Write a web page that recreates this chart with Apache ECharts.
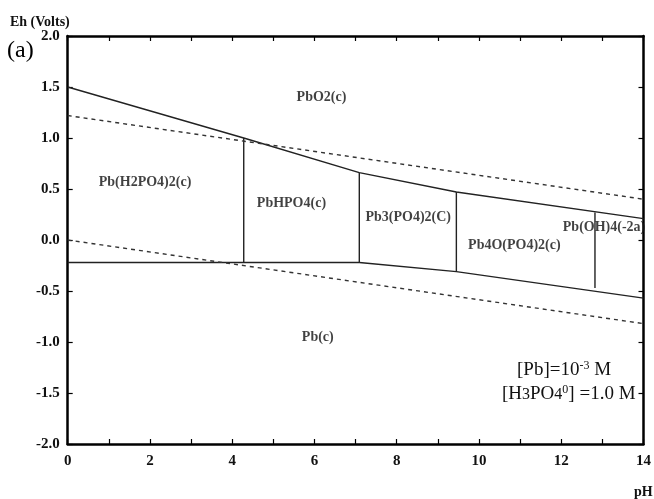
<!DOCTYPE html>
<html>
<head>
<meta charset="utf-8">
<script src="https://cdn.jsdelivr.net/npm/echarts@6/dist/echarts.min.js"></script>
<style>html,body{margin:0;padding:0;background:#fff}#c{width:654px;height:499px}</style>
</head>
<body>
<div id="c"></div>
<script>
// Phase boundaries (pH, Eh in volts)
const upperBoundary = [[0, 1.5], [4.28, 1.0], [7.09, 0.66], [9.45, 0.47], [14, 0.21]];
const lowerBoundary = [[0, -0.22], [7.09, -0.22], [9.45, -0.31], [14, -0.57]];
const vertical1 = [[4.28, -0.22], [4.28, 1.0]];
const vertical2 = [[7.09, -0.22], [7.09, 0.66]];
const vertical3 = [[9.45, -0.31], [9.45, 0.47]];
const vertical4 = [[12.82, -0.47], [12.82, 0.27]];
// Water stability limits
const waterUpper = [[0, 1.22], [14, 0.40]];
const waterLower = [[0, 0.0], [14, -0.82]];
// Region labels
const regionNames = ['PbO2(c)', 'Pb(H2PO4)2(c)', 'PbHPO4(c)', 'Pb3(PO4)2(C)', 'Pb4O(PO4)2(c)', 'Pb(OH)4(-2a)', 'Pb(c)'];
const regionPH = [6.17, 1.88, 5.44, 8.28, 10.86, 13.04, 6.08];
const regionEh = [1.40, 0.56, 0.36, 0.22, -0.05, 0.12, -0.95];
const xTicks = [0, 2, 4, 6, 8, 10, 12, 14];
const yTicks = ['-2.0', '-1.5', '-1.0', '-0.5', '0.0', '0.5', '1.0', '1.5', '2.0'];

const serif = '"Liberation Serif", "Times New Roman", serif';
const chart = echarts.init(document.getElementById('c'), null, {renderer: 'canvas'});

function solid(data) {
  return {type: 'line', data: data, symbol: 'none', silent: true, animation: false,
    lineStyle: {color: '#222', width: 1.4}};
}
function dashed(data) {
  return {type: 'line', data: data, symbol: 'none', silent: true, animation: false,
    lineStyle: {color: '#333', width: 1.4, type: [4, 4]}};
}
const axisLine = {show: true, onZero: false, lineStyle: {color: '#000', width: 2.5}};
const labelStyle = {fontFamily: serif, fontWeight: 'bold', fontSize: 15, color: '#111'};

chart.setOption({
  animation: false,
  grid: {left: 67.7, right: 10, top: 36, bottom: 55},
  xAxis: [
    {type: 'value', min: 0, max: 14, interval: 1, position: 'bottom',
      axisLine: axisLine, splitLine: {show: false},
      axisTick: {show: true, inside: true, length: 5, lineStyle: {color: '#000', width: 1.2}},
      axisLabel: Object.assign({margin: 10, formatter: v => xTicks.indexOf(v) >= 0 ? String(v) : ''}, labelStyle)},
    {type: 'value', min: 0, max: 14, interval: 1, position: 'top',
      axisLine: axisLine, splitLine: {show: false},
      axisTick: {show: true, inside: true, length: 5, lineStyle: {color: '#000', width: 1.2}},
      axisLabel: {show: false}}
  ],
  yAxis: [
    {type: 'value', min: -2, max: 2, interval: 0.5, position: 'left',
      axisLine: axisLine, splitLine: {show: false},
      axisTick: {show: true, inside: true, length: 5, lineStyle: {color: '#000', width: 1.2}},
      axisLabel: Object.assign({margin: 8, formatter: v => yTicks[Math.round((v + 2) * 2)]}, labelStyle)},
    {type: 'value', min: -2, max: 2, interval: 0.5, position: 'right',
      axisLine: axisLine, splitLine: {show: false},
      axisTick: {show: true, inside: true, length: 5, lineStyle: {color: '#000', width: 1.2}},
      axisLabel: {show: false}}
  ],
  series: [
    solid(upperBoundary), solid(lowerBoundary),
    solid(vertical1), solid(vertical2), solid(vertical3), solid(vertical4),
    dashed(waterUpper), dashed(waterLower),
    {type: 'scatter', symbolSize: 0, silent: true, animation: false,
      data: regionNames.map((n, i) => ({name: n, value: [regionPH[i], regionEh[i]]})),
      label: {show: true, position: 'inside', formatter: p => p.name,
        fontFamily: serif, fontWeight: 'bold', fontSize: 14, color: '#111'}}
  ],
  graphic: [
    {type: 'text', left: 10, top: 15, style: {text: 'Eh (Volts)', font: 'bold 14px ' + serif, fill: '#111'}},
    {type: 'text', left: 7, top: 39, style: {text: '(a)', font: '24px ' + serif, fill: '#000'}},
    {type: 'text', left: 634, top: 485, style: {text: 'pH', font: 'bold 14px ' + serif, fill: '#111'}},
    {type: 'text', left: 517, top: 360, style: {
      rich: {n: {fontFamily: serif, fontSize: 19, fill: '#111'}, s: {fontFamily: serif, fontSize: 12, fill: '#111', padding: [0, 0, 9, 0]}},
      text: '{n|[Pb]=10}{s|-3}{n| M}'}},
    {type: 'text', left: 502, top: 384, style: {
      rich: {n: {fontFamily: serif, fontSize: 19, fill: '#111'}, b: {fontFamily: serif, fontSize: 16, fill: '#111'}, s: {fontFamily: serif, fontSize: 12, fill: '#111', padding: [0, 0, 9, 0]}},
      text: '{n|[H}{b|3}{n|PO}{b|4}{s|0}{n|] =1.0 M}'}}
  ]
});
</script>
</body>
</html>
